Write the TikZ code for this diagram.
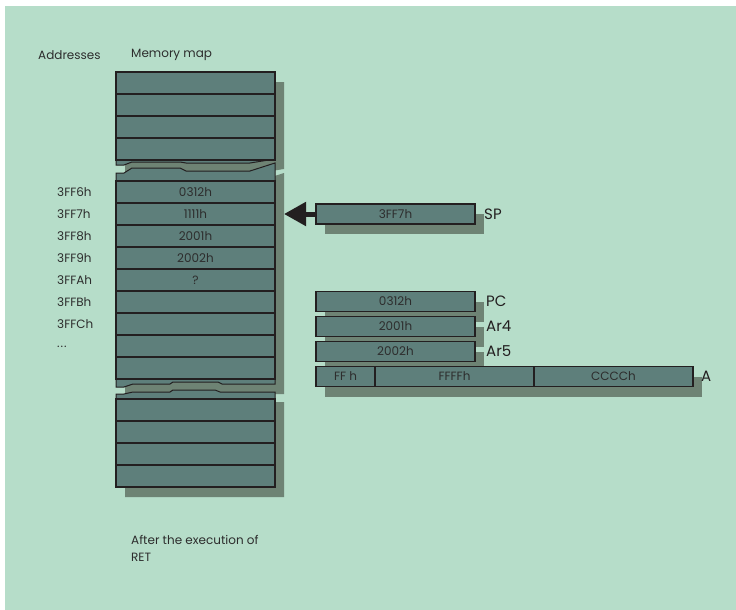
\documentclass[tikz,border=0pt]{standalone}
\usepackage{fontspec}
\setmainfont{Poppins}
\usetikzlibrary{arrows.meta,positioning,shadows}
\definecolor{bgc}{RGB}{182,221,201}
\definecolor{cellc}{RGB}{94,127,123}
\definecolor{shadc}{RGB}{110,131,116}
\definecolor{linec}{RGB}{35,31,32}
\definecolor{txtc}{RGB}{45,45,45}

\begin{document}
\begin{tikzpicture}[x=1pt, y=-1pt, >=Latex,
    every node/.style={font=\fontsize{12}{17}\selectfont, text=txtc},
    cell/.style={draw=linec, line width=1.1pt, fill=cellc, minimum width=159pt,
        minimum height=22pt, inner sep=0pt, outer sep=0pt},
    reg/.style={cell, minimum height=20pt,
        drop shadow={shadow xshift=9pt, shadow yshift=-10pt, fill=shadc, opacity=1}},
    divider/.style={draw=linec, line width=2.6pt},
    lbl/.style={font=\fontsize{15}{17}\selectfont, text=linec, inner sep=0pt},
    pointer/.style={line width=5pt, draw=linec, -{Triangle[length=22pt, width=23pt]}}]
    \useasboundingbox (0,0) rectangle (736,610);
    \fill[white] (0,0) rectangle (736,610);
    \fill[bgc] (5,6) rectangle (736,610);

    % column headings
    \node[anchor=west, inner sep=0pt] (haddr) at (38,55) {Addresses};
    \node[anchor=west, inner sep=0pt] (hmap) at (131,55) {Memory map};

    % shadows of the three pieces of the memory map
    \begin{scope}[shift={(9,10)}]
        \fill[shadc] (116,72) -- (275,72) -- (275,159) -- (250,163) -- (186,163) -- (180,162)
            -- (132,162) -- (124,165) -- (116,165) -- cycle;
        \fill[shadc] (116,173) -- (124,173) -- (132,168) -- (180,168) -- (186,171) -- (250,171)
            -- (275,163) -- (275,384) -- (222,384) -- (218,382) -- (173,382) -- (170,384)
            -- (133,384) -- (124,387) -- (116,387) -- cycle;
        \fill[shadc] (116,394) -- (124,394) -- (133,392) -- (170,392) -- (173,390) -- (215,390)
            -- (220,392) -- (275,392) -- (275,487) -- (116,487) -- cycle;
    \end{scope}

    % broken pieces
    \filldraw[fill=cellc, draw=linec, line width=1pt] (116,72) -- (275,72) -- (275,159) -- (250,163)
        -- (186,163) -- (180,162) -- (132,162) -- (124,165) -- (116,165) -- cycle;
    \filldraw[fill=cellc, draw=linec, line width=1pt] (116,173) -- (124,173) -- (132,168) -- (180,168)
        -- (186,171) -- (250,171) -- (275,163) -- (275,384) -- (222,384) -- (218,382) -- (173,382)
        -- (170,384) -- (133,384) -- (124,387) -- (116,387) -- cycle;
    \filldraw[fill=cellc, draw=linec, line width=1pt] (116,394) -- (124,394) -- (133,392) -- (170,392)
        -- (173,390) -- (215,390) -- (220,392) -- (275,392) -- (275,487) -- (116,487) -- cycle;

    % memory cells
    \foreach \i in {1,...,4}
        \node[cell] (up\i) at (195.5,61+22*\i) {};
    \foreach \t [count=\i] in {0312h,1111h,2001h,2002h,?,{},{},{},{}}
        \node[cell] (m\i) at (195.5,170+22*\i) {\t};
    \foreach \i in {1,...,4}
        \node[cell] (lo\i) at (195.5,388+22*\i) {};
    \foreach \n in {up1,up2,up3,up4,m1,m2,m3,m4,m5,m6,m7,m8,m9,lo1,lo2,lo3}
        \draw[divider] (\n.south west) -- (\n.south east);
    \draw[divider] (lo1.north west) -- (lo1.north east);

    % addresses
    \foreach \a [count=\i] in {3FF6h,3FF7h,3FF8h,3FF9h,3FFAh,3FFBh,3FFCh}
        \node[anchor=west, inner sep=0pt] (ad\i) at (57,170+22*\i) {\a};
    \node[anchor=west, inner sep=0pt] (ad8) at (57,347) {.\kern1pt.\kern1pt.};

    % registers
    \node[reg] (sp) at (395.5,214) {3FF7h};
    \node[lbl, right=9pt of sp] (spl) {SP};
    \draw[pointer, shorten >=9pt] (sp.west) -- (m2.east);

    \node[reg] (pc) at (395.5,301.5) {0312h};
    \node[reg, below=5pt of pc] (ar4) {2001h};
    \node[reg, below=5pt of ar4] (ar5) {2002h};
    \node[lbl, right=11pt of pc] (pcl) {PC};
    \node[lbl, right=11pt of ar4] (ar4l) {Ar4};
    \node[lbl, right=11pt of ar5] (ar5l) {Ar5};

    \node[reg, minimum width=59pt, anchor=north west] (afh) at (316,366.5) {FF h};
    \node[reg, right=0pt of afh] (affff) {FFFFh};
    \node[reg, right=0pt of affff] (acccc) {CCCCh};
    \node[lbl, right=8pt of acccc] (al) {A};

    % caption
    \node[anchor=north west, align=left, inner sep=0pt] (cap) at (131,535)
        {After the execution of\\RET};
\end{tikzpicture}
\end{document}
